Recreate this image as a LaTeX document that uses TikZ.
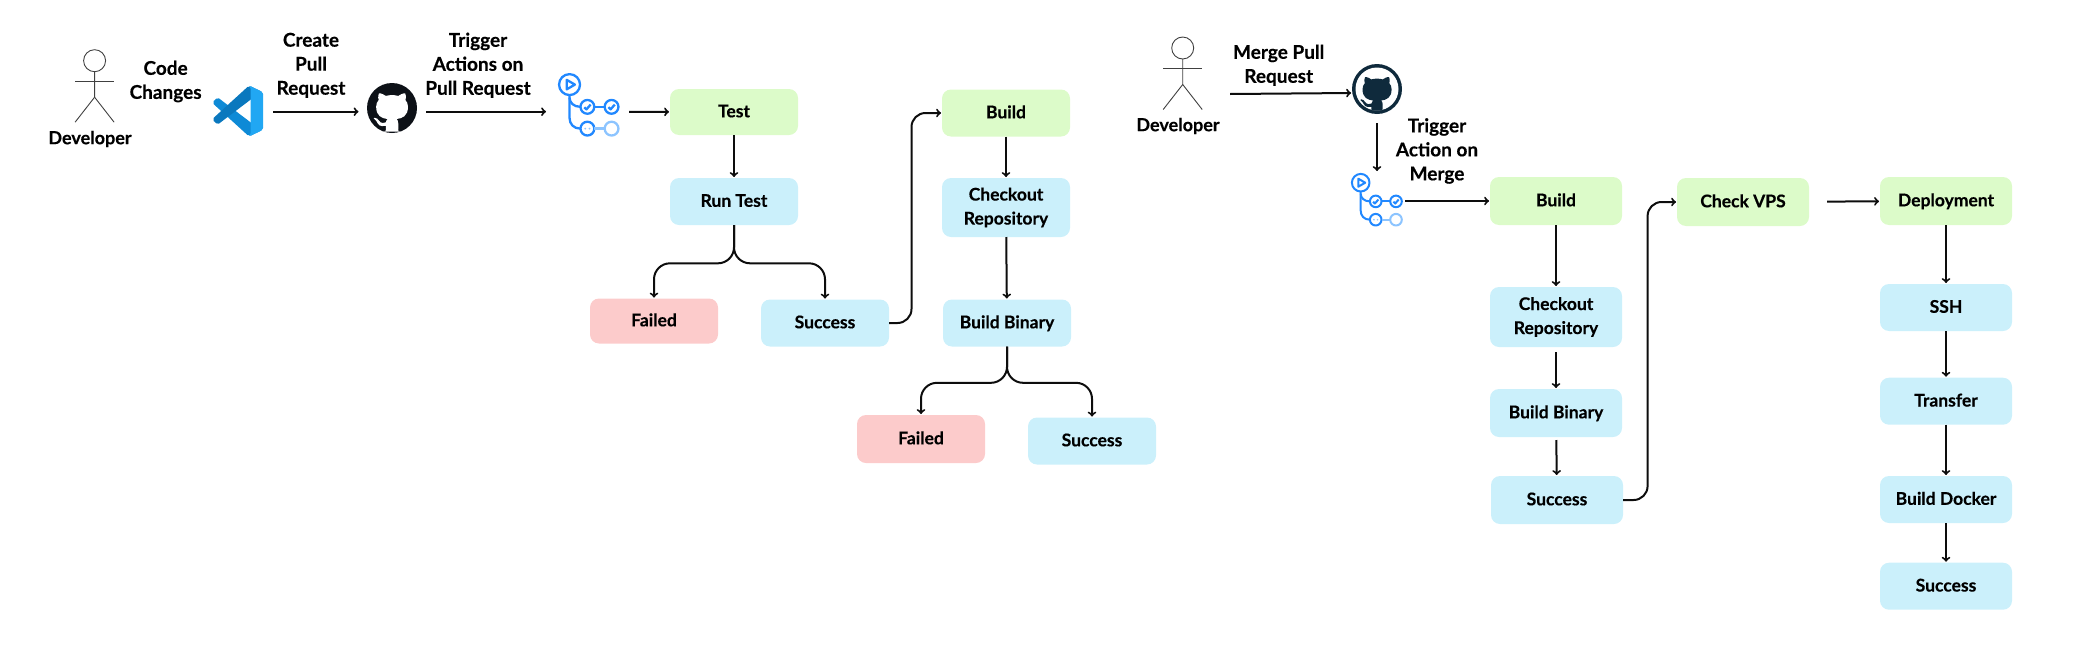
\documentclass[tikz,border=0pt]{standalone}
\usepackage{fontspec}
\setmainfont{Lato}[BoldFeatures={FakeBold=0.35}]
\usepackage{xcolor}
\usepackage{tikz}
\usetikzlibrary{positioning,calc}

\definecolor{greenbox}{HTML}{DCFBC9}
\definecolor{bluebox}{HTML}{CBF0FB}
\definecolor{redbox}{HTML}{FCCBCB}
\definecolor{flowblue}{HTML}{2188FF}
\definecolor{flowfaint}{HTML}{8CC4FF}
\definecolor{catnavy}{HTML}{0F2A3C}
\definecolor{catblack}{HTML}{0D1117}
\definecolor{codetop}{HTML}{0A78BE}
\definecolor{codelow}{HTML}{0E8AD6}
\definecolor{codepanel}{HTML}{21A7F3}

\tikzset{
  card/.style={rectangle, rounded corners=9pt, minimum width=128pt, minimum height=47pt, inner sep=0pt, outer sep=0pt, align=center, text height=12.6pt, text depth=2pt, font=\fontsize{17.5}{24}\selectfont\bfseries},
  stagebox/.style={card, fill=greenbox},
  stepbox/.style={card, fill=bluebox},
  failbox/.style={card, fill=redbox},
  twolines/.style={text height=, text depth=},
  widecard/.style={minimum width=132pt, minimum height=48pt},
  lbl/.style={align=center, inner sep=0pt, font=\fontsize{19}{24}\selectfont\bfseries},
  iconbox/.style={rectangle, inner sep=0pt, outer sep=0pt, minimum height=50pt},
  flow/.style={->, line width=2pt, black!95, shorten >=1pt}
}

% Cat outline of the GitHub mark, 16 units wide
\newcommand{\catoutline}{(5.47,15.59) .. controls (5.87,15.66) and (6.02,15.42) .. (6.02,15.21) -- (6.01,13.72) .. controls (4,14.09) and (3.48,13.23) .. (3.32,12.78) .. controls (3.23,12.55) and (2.84,11.84) .. (2.5,11.65) .. controls (2.22,11.5) and (1.82,11.13) .. (2.49,11.12) .. controls (3.12,11.11) and (3.57,11.7) .. (3.72,11.94) .. controls (4.44,13.15) and (5.59,12.81) .. (6.05,12.6) .. controls (6.12,12.08) and (6.33,11.73) .. (6.56,11.53) .. controls (4.78,11.33) and (2.92,10.64) .. (2.92,7.58) .. controls (2.92,6.71) and (3.23,5.99) .. (3.74,5.43) .. controls (3.66,5.23) and (3.38,4.41) .. (3.82,3.31) .. controls (3.82,3.31) and (4.49,3.1) .. (6.02,4.13) .. controls (6.66,3.95) and (7.34,3.86) .. (8.02,3.86) .. controls (8.7,3.86) and (9.38,3.95) .. (10.02,4.13) .. controls (11.55,3.09) and (12.22,3.31) .. (12.22,3.31) .. controls (12.66,4.41) and (12.38,5.23) .. (12.3,5.43) .. controls (12.81,5.99) and (13.12,6.7) .. (13.12,7.58) .. controls (13.12,10.65) and (11.25,11.33) .. (9.47,11.53) .. controls (9.76,11.78) and (10.01,12.26) .. (10.01,13.01) .. controls (10.01,14.08) and (10,14.94) .. (10,15.21) .. controls (10,15.42) and (10.15,15.67) .. (10.55,15.59) -- cycle}

% Stick figure, #1 = centre of the head
\newcommand{\stickman}[2]{
  \begin{scope}[shift={(#1,#2)}, black!75, line width=0.9pt]
    \draw (0,0) circle (11pt);
    \draw (-19.5,20.5) -- (19.5,20.5);
    \draw (0,11) -- (0,36.5) -- (-19.5,61.5);
    \draw (0,36.5) -- (19.5,61.5);
  \end{scope}
}

% Workflow mark: origin, scale, line width
\newcommand{\workflowmark}[4]{
  \begin{scope}[shift={(#1,#2)}, scale=#3, line width=#4pt, flowblue, line join=round]
    \draw (9.7,10) circle (8.8);
    \draw (7.3,6) -- (7.3,14) -- (14.2,10) -- cycle;
    \draw (9.7,19) -- (9.7,38) .. controls (9.7,43) and (13,47) .. (18.9,47);
    \draw (9.7,21) .. controls (9.7,25) and (13,28.7) .. (18.9,28.7);
    \foreach \cx in {24.7,45} \draw (\cx,28.7) circle (5.8);
    \draw (24.7,47) circle (5.8);
    \draw (30.5,28.7) -- (39.2,28.7);
    \draw[flowfaint] (30.5,47) -- (39.2,47);
    \draw[flowfaint] (45,47) circle (5.8);
    \foreach \cx in {24.7,45} \draw (\cx-2.6,29) -- (\cx-0.8,30.8) -- (\cx+2.7,26.8);
    \fill[flowfaint] (22.9,47) circle (0.9) (26.5,47) circle (0.9);
  \end{scope}
}

\begin{document}
\begin{tikzpicture}[x=1pt, y=-1pt]
  \useasboundingbox (0,0) rectangle (2073,659);

  % Pull request side
  \stickman{94.6}{60.7}
  \node (devone) [lbl, font=\fontsize{18}{24}\selectfont\bfseries] at (90,139) {Developer};
  \node (codelbl) [lbl] at (165.6,81.5) {Code\\Changes};
  \node (prlbl) [lbl] at (311,65.3) {Create\\Pull\\Request};
  \node (actionslbl) [lbl] at (478,65.3) {Trigger\\Actions on\\Pull Request};

  % VS Code mark
  \node (vscode) [iconbox, minimum width=50pt] at (238,111.7) {};
  \begin{scope}[shift={(213,86)}, scale=0.5]
    \fill[codelow] (96.5,89.2) -- (75.9,99.1) -- (68.8,97.9) -- (1.3,36.3) -- (1.3,30.1) -- (6.8,25.1) -- (12.1,24.9) -- (93.3,86.4) -- (100,83.6) -- cycle;
    \fill[codetop] (75.9,.9) -- (96.5,10.8) -- (100,16.4) -- (93.3,13.6) -- (12.1,75.1) -- (6.8,74.9) -- (1.3,69.9) -- (1.3,63.7) -- (68.8,2.1) -- cycle;
    \fill[codepanel] (75.9,99.1) -- (72,99.5) -- (75,95.3) -- (75,4.7) -- (72,.5) -- (75.9,.9) -- (96.5,10.8) -- (100,16.4) -- (100,83.6) -- (96.5,89.2) -- cycle;
  \end{scope}

  % GitHub mark, black
  \node (ghone) [iconbox, minimum width=50pt] at (392,111.7) {};
  \fill[catblack] (392,108) circle (25pt);
  \begin{scope}[shift={(392,108)}, scale=3.12, shift={(-8,-8)}]
    \fill[white] \catoutline;
  \end{scope}

  % Workflow mark
  \node (wfone) [iconbox, minimum width=62pt] at (589,111.7) {};
  \workflowmark{558}{72.7}{1.19}{2.3}

  % Test job
  \node (testjob) [stagebox, minimum height=46pt] at (734,112) {Test};
  \node (runtest) [stepbox, below=43pt of testjob] {Run Test};
  \node (failone) [failbox, minimum height=45pt] at (654,321) {Failed};
  \node (okone) [stepbox] at (825,323) {Success};

  % Build job
  \node (buildone) [stagebox] at (1006,113) {Build};
  \node (checkone) [stepbox, twolines, minimum height=59pt, below=41.5pt of buildone] {Checkout\\Repository};
  \node (binone) [stepbox] at (1007,323) {Build Binary};
  \node (failtwo) [failbox, minimum height=48pt] at (921,439) {Failed};
  \node (oktwo) [stepbox] at (1092,441) {Success};

  % Connections
  \draw[flow, shorten <=10pt, shorten >=8.5pt] (vscode) -- (ghone);
  \draw[flow, shorten <=9pt, shorten >=12pt] (ghone) -- (wfone);
  \draw[flow, shorten <=9pt] (wfone) -- (testjob);
  \draw[flow] (testjob) -- (runtest);
  \draw[flow, rounded corners=16pt] (runtest.south) -- ++(0,38.3) -| (failone.north);
  \draw[flow, rounded corners=16pt] (runtest.south) -- ++(0,38.3) -| (okone.north);
  \draw[flow, rounded corners=14pt] (okone.east) -- ++(22.5,0) |- (buildone.west);
  \draw[flow] (buildone) -- (checkone);
  \draw[flow] (checkone) -- (binone);
  \draw[flow, rounded corners=16pt] (binone.south) -- ++(0,36.3) -| (failtwo.north);
  \draw[flow, rounded corners=16pt] (binone.south) -- ++(0,36.3) -| (oktwo.north);

  % Merge side
  \stickman{1182.7}{48}
  \node (devtwo) [lbl, font=\fontsize{18}{24}\selectfont\bfseries] at (1178,126) {Developer};
  \node (mergelbl) [lbl] at (1278.7,65.3) {Merge Pull\\Request};
  \node (triggerlbl) [lbl] at (1437,151) {Trigger\\Action on\\Merge};
  \coordinate (mergefrom) at (1230,94);

  % GitHub mark, navy ring
  \node (ghtwo) [iconbox, minimum width=50pt] at (1377,93) {};
  \fill[catnavy] (1377,89) circle (25pt);
  \fill[white] (1377,89) circle (21.5pt);
  \begin{scope}
    \clip (1377,89) circle (21.5pt);
    \begin{scope}[shift={(1377,89)}, scale=2.85, shift={(-8,-7.5)}]
      \fill[catnavy] \catoutline;
      \fill[catnavy] (6,15) rectangle (10,20);
    \end{scope}
  \end{scope}

  \node (wftwo) [iconbox, minimum width=52pt] at (1377,201) {};
  \workflowmark{1351}{172.7}{1}{2}

  % Build job on merge
  \node (buildtwo) [stagebox, widecard] at (1556,201) {Build};
  \node (checktwo) [stepbox, widecard, twolines, minimum height=60pt] at (1556,317) {Checkout\\Repository};
  \node (bintwo) [stepbox, widecard] at (1556,413) {Build Binary};
  \node (okthree) [stepbox, widecard] at (1557,500) {Success};

  % Deploy job
  \node (checkvps) [stagebox, widecard] at (1743,202) {Check VPS};
  \node (deploy) [stagebox, widecard] at (1946,201) {Deployment};
  \node (sshstep) [stepbox, widecard, minimum height=47pt, below=59pt of deploy] {SSH};
  \node (transfer) [stepbox, widecard, minimum height=47pt, below=46.7pt of sshstep] {Transfer};
  \node (builddocker) [stepbox, widecard, minimum height=47pt, below=51.3pt of transfer] {Build Docker};
  \node (okfour) [stepbox, widecard, minimum height=47pt, below=39.7pt of builddocker] {Success};

  % Connections
  \draw[flow] (mergefrom) -- (ghtwo.west);
  \draw[flow, shorten <=5pt, shorten >=5pt] (ghtwo.south) -- (wftwo.north);
  \draw[flow, shorten <=2pt] (wftwo) -- (buildtwo);
  \draw[flow] (buildtwo) -- (checktwo);
  \draw[flow, shorten <=5pt] (checktwo) -- (bintwo);
  \draw[flow, shorten <=3pt] (bintwo) -- (okthree);
  \draw[flow, rounded corners=14pt] (okthree.east) -- ++(24.6,0) |- (checkvps.west);
  \draw[flow, shorten <=18pt] (checkvps) -- (deploy);
  \draw[flow] (deploy) -- (sshstep);
  \draw[flow] (sshstep) -- (transfer);
  \draw[flow] (transfer) -- (builddocker);
  \draw[flow] (builddocker) -- (okfour);
\end{tikzpicture}
\end{document}
